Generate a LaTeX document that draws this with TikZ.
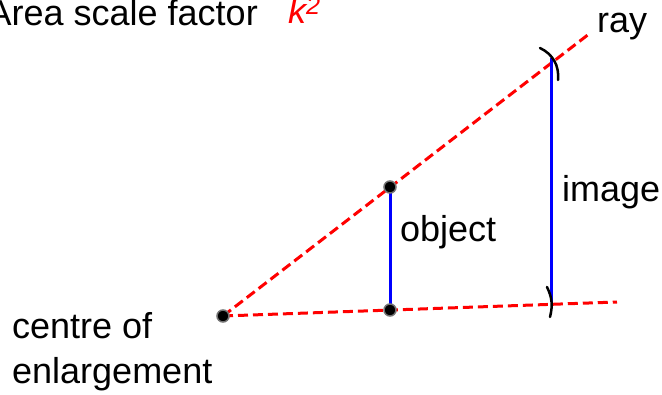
\documentclass[tikz,border=0pt]{standalone}
\usepackage{fontspec}
\setmainfont{Liberation Sans}
\usepackage{tikz}
\usetikzlibrary{calc, positioning}

\begin{document}
\begin{tikzpicture}[x=1pt, y=1pt,
    lbl/.style={inner sep=0pt, anchor=base west, font=\fontsize{36}{40}\selectfont},
    rayline/.style={red, line width=3pt, dash pattern=on 10pt off 5pt},
    seg/.style={blue, line width=3pt},
    dot/.style={circle, fill=black, draw=black!55, line width=1.5pt, inner sep=0pt, minimum size=12pt},
    cmark/.style={black, line width=2.5pt, line cap=round}]
    \useasboundingbox (0,0) rectangle (662,394);
    % Points: centre, object, image, ray ends
    \coordinate (c) at (223,78);
    \coordinate (ot) at (390,207);
    \coordinate (ob) at (390,84);
    \coordinate (it) at (551,336);
    \coordinate (ib) at (551,92);
    \coordinate (rayup) at (589,360);
    \coordinate (raylo) at (617,92);
    % Compass mark ends
    \coordinate (arcta) at (540,346);
    \coordinate (arctb) at (558,314);
    \coordinate (arcba) at (547,107);
    \coordinate (arcbb) at (550,77);
    % Rays
    \draw[rayline] (c) -- (rayup);
    \draw[rayline] (c) -- (raylo);
    % Object and image
    \draw[seg] (ot) -- (ob);
    \draw[seg] (it) -- (ib);
    % Compass marks
    \draw[cmark] (arcta) to[bend left=35] (arctb);
    \draw[cmark] (arcba) to[bend left=20] (arcbb);
    % Dots
    \node[dot] (cdot) at (c) {};
    \node[dot] (otdot) at (ot) {};
    \node[dot] (obdot) at (ob) {};
    % Labels
    \node[lbl, anchor=base east] (asf) at (258,368) {Area scale factor};
    \node[lbl, text=red] (ksq) at (288,370) {\itshape k\textsuperscript{2}};
    \node[lbl] (raylbl) at (597,361) {ray};
    \node[lbl] (imglbl) at (562,192) {image};
    \node[lbl] (objlbl) at (400,152) {object};
    \node[lbl] (cof) at (12,56) {centre of};
    \node[lbl] (enl) at (12,11) {enlargement};
  \end{tikzpicture}
\end{document}
